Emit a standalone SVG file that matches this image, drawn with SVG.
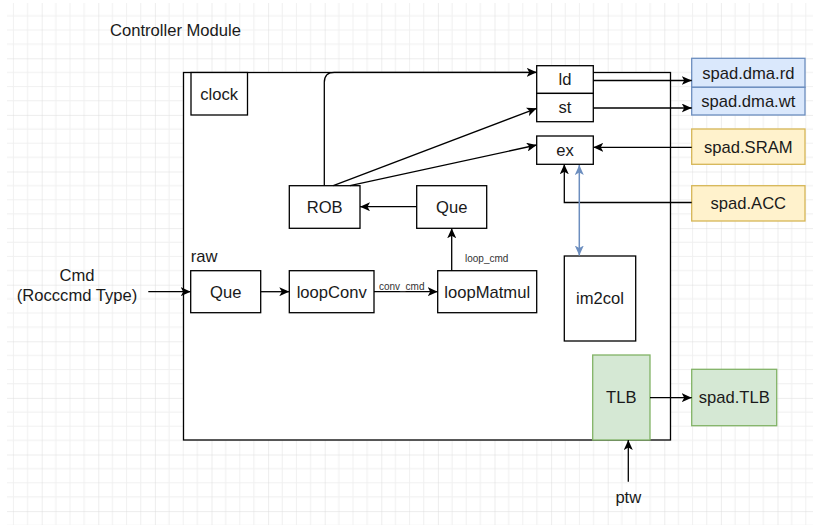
<svg xmlns="http://www.w3.org/2000/svg" width="813" height="530" viewBox="0 0 813 530">
<style>
  text { font-family: "Liberation Sans", Arial, sans-serif; font-size: 16.6px; fill: #1a1a1a; text-anchor: middle; }
  .small { font-size: 10px; fill: #333; }
  .box { fill: #ffffff; stroke: #000; stroke-width: 1.3; }
  .blue { fill: #dae8fc; stroke: #6c8ebf; stroke-width: 1.3; }
  .yellow { fill: #fff2cc; stroke: #d6b656; stroke-width: 1.3; }
  .green { fill: #d5e8d4; stroke: #82b366; stroke-width: 1.3; }
  .conn { fill: none; stroke: #000; stroke-width: 1.3; marker-end: url(#arr); }
  .bconn { fill: none; stroke: #6c8ebf; stroke-width: 1.5; marker-end: url(#barr); marker-start: url(#barr); }
</style>
<defs>
  <pattern id="grid" patternUnits="userSpaceOnUse" x="41.7" y="1.7" width="56.6" height="56.6">
    <path d="M14.15,0 V56.6 M28.3,0 V56.6 M42.45,0 V56.6 M0,14.15 H56.6 M0,28.3 H56.6 M0,42.45 H56.6" stroke="#f0f0f0" stroke-width="1" fill="none"/>
    <path d="M0,0 V56.6 M0,0 H56.6" stroke="#dcdcdc" stroke-width="1" fill="none"/>
  </pattern>
  <marker id="arr" viewBox="0 0 10 9" refX="10" refY="4.5" markerWidth="10" markerHeight="9" markerUnits="userSpaceOnUse" orient="auto">
    <path d="M0,0 L10,4.5 L0,9 L2.5,4.5 Z" fill="#000"/>
  </marker>
  <marker id="barr" viewBox="0 0 10 9" refX="10" refY="4.5" markerWidth="10" markerHeight="9" markerUnits="userSpaceOnUse" orient="auto-start-reverse">
    <path d="M0,0 L10,4.5 L0,9 L2.5,4.5 Z" fill="#6c8ebf"/>
  </marker>
</defs>
<rect x="0" y="0" width="813" height="530" fill="#ffffff"/>
<rect x="7" y="3" width="806" height="522" fill="url(#grid)"/>

<text x="110" y="35.8" style="text-anchor:start">Controller Module</text>

<g id="module">
  <rect class="box" x="183.5" y="72.5" width="487" height="367.5"/>
</g>

<g id="clock">
  <rect class="box" x="191" y="72.5" width="56.5" height="42.5"/>
  <text x="219.2" y="99.8">clock</text>
</g>
<g id="ld">
  <rect class="box" x="536.7" y="65.7" width="56.6" height="27.7"/>
  <text x="565" y="85.3">ld</text>
</g>
<g id="st">
  <rect class="box" x="536.7" y="93.4" width="56.6" height="28.3"/>
  <text x="565" y="113.3">st</text>
</g>
<g id="ex">
  <rect class="box" x="536.7" y="136" width="56.6" height="28.3"/>
  <text x="565" y="155.9">ex</text>
</g>
<g id="rob">
  <rect class="box" x="289.3" y="185.7" width="70.7" height="42.6"/>
  <text x="324.7" y="212.8">ROB</text>
</g>
<g id="que-top">
  <rect class="box" x="416.7" y="185.7" width="70" height="42.6"/>
  <text x="451.7" y="212.8">Que</text>
</g>
<g id="raw-label">
  <text x="190.7" y="262" style="text-anchor:start">raw</text>
</g>
<g id="que-raw">
  <rect class="box" x="190.7" y="270.7" width="70" height="42"/>
  <text x="225.7" y="297.5">Que</text>
</g>
<g id="loopconv">
  <rect class="box" x="289.3" y="270.7" width="84.7" height="42"/>
  <text x="331.7" y="297.5">loopConv</text>
</g>
<g id="loopmatmul">
  <rect class="box" x="437.7" y="270.7" width="99" height="42"/>
  <text x="487.2" y="297.5">loopMatmul</text>
</g>
<g id="im2col">
  <rect class="box" x="564.3" y="256" width="71.4" height="85"/>
  <text x="600" y="304.3">im2col</text>
</g>
<g id="tlb">
  <rect class="green" x="592.7" y="355" width="57.3" height="85"/>
  <text x="621.3" y="403.3">TLB</text>
</g>
<g id="spad-dma-rd">
  <rect class="blue" x="691.7" y="58.3" width="113.3" height="29"/>
  <text x="748.3" y="78.6">spad.dma.rd</text>
</g>
<g id="spad-dma-wt">
  <rect class="blue" x="691.7" y="87.3" width="113.3" height="27.7"/>
  <text x="748.3" y="106.8">spad.dma.wt</text>
</g>
<g id="spad-sram">
  <rect class="yellow" x="691.7" y="129" width="113.3" height="35.3"/>
  <text x="748.3" y="152.5">spad.SRAM</text>
</g>
<g id="spad-acc">
  <rect class="yellow" x="691.7" y="185.7" width="113.3" height="35.3"/>
  <text x="748.3" y="209.1">spad.ACC</text>
</g>
<g id="spad-tlb">
  <rect class="green" x="691.7" y="369.3" width="85" height="56.4"/>
  <text x="734.2" y="403.3">spad.TLB</text>
</g>
<g id="cmd">
  <text x="77" y="280.8">Cmd</text>
  <text x="77" y="300.8">(Rocccmd Type)</text>
</g>
<g id="ptw">
  <text x="628.3" y="502.5">ptw</text>
</g>

<g id="connectors">
  <path class="conn" d="M324.3,185.7 V82.3 Q324.3,72.3 334.3,72.3 H536.7"/>
  <path class="conn" d="M333.3,185.7 L536.7,108.3"/>
  <path class="conn" d="M350,185.7 L536.7,145"/>
  <path class="conn" d="M416.7,206.7 H360"/>
  <path class="conn" d="M593.3,80.5 H691.7"/>
  <path class="conn" d="M593.3,108 H691.7"/>
  <path class="conn" d="M691.7,147.3 H593.3"/>
  <path class="conn" d="M691.7,202.5 H564.3 V164.3"/>
  <path class="bconn" d="M579.3,165 V255.5"/>
  <path class="conn" d="M148.3,291.7 H190.7"/>
  <path class="conn" d="M260.7,291.7 H289.3"/>
  <path class="conn" d="M374,291.7 H437.7"/>
  <text class="small" x="401.7" y="290">conv_cmd</text>
  <path class="conn" d="M451.7,270.7 V228.3"/>
  <text class="small" x="486.7" y="262">loop_cmd</text>
  <path class="conn" d="M650,397.7 H691.7"/>
  <path class="conn" d="M628.3,481.7 V440"/>
</g>
</svg>
